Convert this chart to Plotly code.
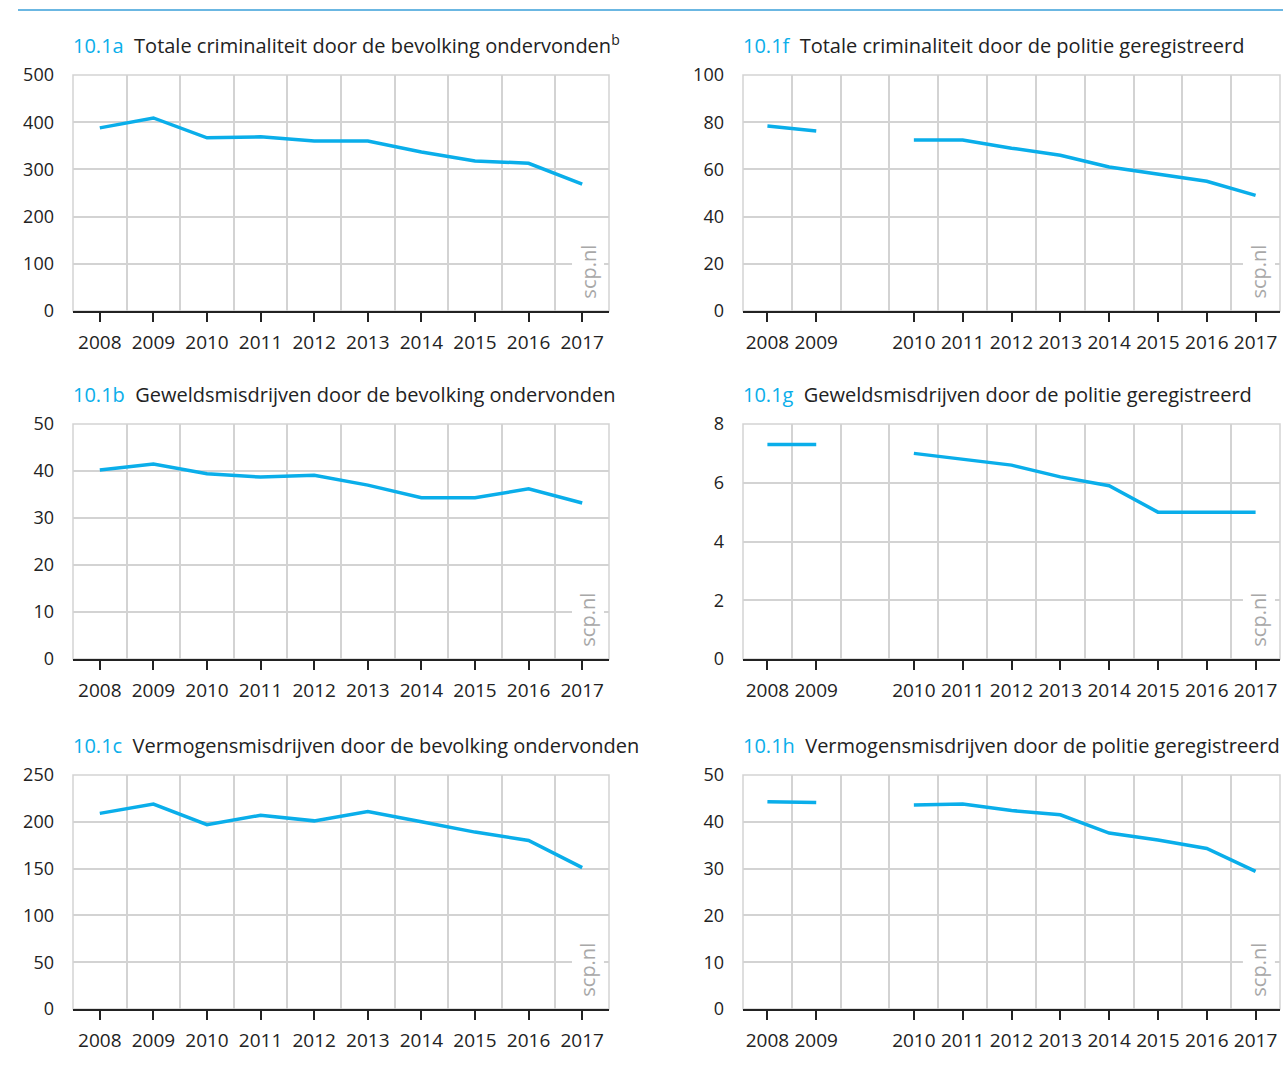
import plotly.graph_objects as go

years = [2008, 2009, 2010, 2011, 2012, 2013, 2014, 2015, 2016, 2017]

# door de bevolking ondervonden (links)
totaal_bev = [388, 409, 367, 369, 360, 360, 337, 318, 313, 269]
geweld_bev = [40.2, 41.5, 39.4, 38.7, 39.1, 37.0, 34.3, 34.3, 36.2, 33.2]
vermogen_bev = [209, 219, 197, 207, 201, 211, 200, 189, 180, 151]

# door de politie geregistreerd (rechts)
totaal_pol = [78.4, 76.3, 72.5, 72.5, 69.0, 66.0, 61.0, 58.0, 55.0, 49.0]
geweld_pol = [7.3, 7.3, 7.0, 6.8, 6.6, 6.2, 5.9, 5.0, 5.0, 5.0]
vermogen_pol = [44.3, 44.1, 43.6, 43.8, 42.4, 41.5, 37.6, 36.1, 34.3, 29.4]

panels = [
    ("10.1a", "Totale criminaliteit door de bevolking ondervonden<sup>b</sup>", totaal_bev, 500, 100, False),
    ("10.1f", "Totale criminaliteit door de politie geregistreerd", totaal_pol, 100, 20, True),
    ("10.1b", "Geweldsmisdrijven door de bevolking ondervonden", geweld_bev, 50, 10, False),
    ("10.1g", "Geweldsmisdrijven door de politie geregistreerd", geweld_pol, 8, 2, True),
    ("10.1c", "Vermogensmisdrijven door de bevolking ondervonden", vermogen_bev, 250, 50, False),
    ("10.1h", "Vermogensmisdrijven door de politie geregistreerd", vermogen_pol, 50, 10, True),
]

W, H = 1283, 1092
BLUE = "#0aaeea"
GRID = "#d3d3d3"
FONT = "Open Sans"

xdom_left = [73 / W, 609 / W]
xdom_right = [743 / W, 1280 / W]
rows_px = [(75, 311), (424, 659), (775, 1009)]

fig = go.Figure()

for i, (num, title, vals, ymax, dy, police) in enumerate(panels):
    n = i + 1
    row = i // 2
    top, bot = rows_px[row]
    ydom = [1 - bot / H, 1 - top / H]
    xdom = xdom_right if police else xdom_left
    xa = "x" if n == 1 else f"x{n}"
    ya = "y" if n == 1 else f"y{n}"

    if police:
        # breuk in de reeks tussen 2009 en 2010
        pos = [k + (1 if y >= 2010 else 0) for k, y in enumerate(years)]
        segs = [(0, 2), (2, 10)]
        xr = [-0.5, 10.5]
    else:
        pos = list(range(len(years)))
        segs = [(0, 10)]
        xr = [-0.5, 9.5]

    for a, b in segs:
        fig.add_trace(go.Scatter(
            x=pos[a:b], y=vals[a:b], mode="lines",
            line=dict(color=BLUE, width=3.5),
            xaxis=xa, yaxis=ya, showlegend=False, hoverinfo="skip"))

    fig.layout[f"xaxis{n if n > 1 else ''}"] = dict(
        domain=xdom, anchor=ya, range=xr, automargin=False,
        tickmode="array", tickvals=pos, ticktext=[str(y) for y in years],
        ticks="outside", ticklen=9, tickwidth=2, tickcolor="#222",
        showline=True, linecolor="#222", linewidth=2,
        showgrid=False, zeroline=False,
        tickfont=dict(family=FONT, size=19, color="#222"),
        ticklabelstandoff=4,
        minor=dict(tickmode="linear", tick0=0.5, dtick=1, showgrid=True,
                   gridcolor=GRID, gridwidth=1.5, ticks=""),
        fixedrange=True,
    )
    fig.layout[f"yaxis{n if n > 1 else ''}"] = dict(
        domain=ydom, anchor=xa, range=[0, ymax], automargin=False,
        tickmode="linear", tick0=0, dtick=dy,
        showgrid=True, gridcolor=GRID, gridwidth=1.5, zeroline=False,
        showline=False, ticks="",
        tickfont=dict(family=FONT, size=18, color="#222"),
        ticklabelstandoff=18,
        fixedrange=True,
    )

    # kader rond het plotgebied
    fig.add_shape(type="rect", xref=f"{xa} domain", yref=f"{ya} domain",
                  x0=0, x1=1, y0=0, y1=1, line=dict(color=GRID, width=1.5),
                  layer="below")

    # titel
    fig.add_annotation(
        xref="paper", yref="paper", x=xdom[0] - 2 / W, y=1 - (top - 14) / H,
        xanchor="left", yanchor="bottom", showarrow=False,
        text=f"<span style='color:{BLUE}'>{num}</span>  {title}",
        font=dict(family=FONT, size=20, color="#222"))

    # bronvermelding
    fig.add_annotation(
        xref=f"{xa} domain", yref=f"{ya} domain", x=0.961, y=0.04,
        xanchor="center", yanchor="bottom", showarrow=False, textangle=-90,
        text="scp.nl", bgcolor="white", borderpad=2,
        font=dict(family=FONT, size=20, color="#a8a8a8"))

# blauwe lijn bovenaan
fig.add_shape(type="line", xref="paper", yref="paper",
              x0=18 / W, x1=1, y0=1 - 10 / H, y1=1 - 10 / H,
              line=dict(color="#3a9fd9", width=1.5))

fig.update_layout(
    width=W, height=H,
    margin=dict(l=0, r=0, t=0, b=0, pad=0, autoexpand=False),
    paper_bgcolor="white", plot_bgcolor="white",
    font=dict(family=FONT),
)

# figuur linksboven in het venster zetten (geen body-marge)
fix = ("document.body.style.margin='0';"
       "var gd=document.getElementById('{plot_id}');"
       "gd.style.position='absolute';gd.style.left='0px';gd.style.top='0px';")

fig.write_html("out.html", post_script=fix, config={"displayModeBar": False})
